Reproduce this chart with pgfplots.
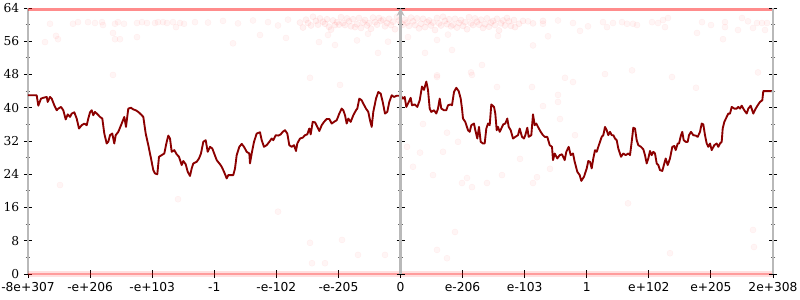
\documentclass[border=0pt]{standalone}
\usepackage{fontspec}
\setmainfont{DejaVu Serif}
\newfontfamily\xfont{DejaVu Sans}
\usepackage{pgfplots}
\pgfplotsset{compat=1.18}
\definecolor{axgray}{RGB}{185,185,185}
\definecolor{lred}{RGB}{139,0,0}
\pgfplotsset{base/.style={
  scale only axis, width=558.75pt, height=199.5pt,
  xmin=0, xmax=745, ymin=0, ymax=64, enlargelimits=false,
  ytick={0,8,...,64}, minor y tick num=1,
  tick align=center, major tick length=6pt, minor tick length=3.5pt,
  major tick style={black, line width=0.7pt},
  minor tick style={black!60, line width=0.6pt},
  axis line style={-, draw=axgray, line width=1.6pt},
  /pgf/number format/assume math mode=true,
  yticklabel style={font=\fontsize{9.2}{11}\selectfont},
  xticklabel style={font=\xfont\fontsize{9.2}{11}\selectfont},
}}
\begin{document}
\begin{tikzpicture}
\begin{axis}[base,
  axis y line*=left, axis x line*=bottom,
  x axis line style={draw opacity=0},
  xtick={0,62.0833,124.1667,186.25,248.3333,310.4167,372.5,434.5833,496.6667,558.75,620.8333,682.9167,745},
  xticklabels={-8e+307,-e+206,-e+103,-1,-e-102,-e-205,0,e-206,e-103,1,e+102,e+205,2e+308},
  minor x tick num=0,
  clip=false]
% bands of points at 0 and 64
\addplot[red, line width=4.5pt, opacity=0.12] coordinates {(0,0)(745,0)};
\addplot[red, line width=1.4pt, opacity=0.3] coordinates {(0,0)(745,0)};
\addplot[red, line width=2.4pt, opacity=0.45] coordinates {(0,63.6)(745,63.6)};
% dense cloud near the top
\addplot[only marks, mark=*, mark size=2.3pt, mark options={fill=red, draw=red, opacity=0.05}] coordinates {
(272,60.5)(278,61.2)(283,59.8)(288,60.9)(292,61.5)(297,60.2)(301,59.5)(305,61.0)(309,60.6)(313,61.8)(317,59.9)(321,60.8)(325,61.3)(329,60.1)(333,59.2)(337,61.1)(341,60.4)(345,61.7)(349,60.0)(353,60.9)(357,59.6)(361,61.4)(365,60.7)(369,61.9)(373,60.3)(377,61.2)(381,59.7)(385,60.8)(389,61.5)(393,60.2)(397,59.4)(401,61.0)(405,60.5)(409,61.6)(413,59.8)(417,60.9)(421,61.3)(425,60.0)(429,59.3)(433,61.1)(437,60.6)(441,61.8)(445,59.9)(449,60.7)(453,61.2)(457,60.1)(461,59.5)(465,60.9)(469,61.4)(473,60.3)(477,59.8)(481,60.8)(486,61.1)(491,60.2)
(275,59.3)(285,61.9)(295,60.7)(303,58.8)(311,60.0)(319,61.5)(327,59.4)(335,60.5)(343,59.0)(351,61.6)(359,60.4)(367,58.9)(375,60.0)(383,61.7)(391,59.1)(399,60.6)(407,58.7)(415,61.9)(423,59.6)(431,60.4)(439,58.9)(447,61.5)(455,59.2)(463,60.5)(471,58.6)(479,61.6)(487,59.4)
(280,60.4)(290,60.0)(299,61.3)(307,59.9)(315,60.4)(323,59.6)(331,61.6)(339,59.8)(347,60.6)(355,61.2)(363,59.9)(371,61.0)(379,60.5)(387,59.9)(395,61.4)(403,59.8)(411,60.3)(419,60.1)(427,61.4)(435,59.7)(443,60.3)(451,60.0)(459,61.5)(467,59.9)(475,61.0)(483,59.7)(495,60.9)(505,60.3)(515,60.9)
};
% sparse points
\addplot[only marks, mark=*, mark size=2.3pt, mark options={fill=red, draw=red, opacity=0.04}] coordinates {
(291,55.8)(307,55.1)(329,56.2)(350,53.2)(360,55.9)(397,53.2)(409,56.3)(424,53.9)(454,50.3)(282,47.2)(312,45.5)(409,47.8)(443,48.5)(300,57.5)(380,57.0)(470,57.3)(340,57.8)(420,57.6)
(22,60.2)(28,57.3)(30,56.5)(17,55.8)(45,60.2)(50,60.6)(60,60.6)(67,60.4)(74,60.6)(75,59.9)(87,60.2)(85,58.0)(87,56.5)(92,56.5)(90,60.6)(96,60.2)(109,60.4)(109,57.0)(114,60.6)(119,60.4)(127,60.4)(130,60.6)(135,60.6)(139,60.4)(145,60.6)(148,59.4)(152,60.4)(156,60.2)(167,60.6)(85,47.9)
(180,60.5)(195,60.9)(210,60.3)(225,61.0)(240,60.6)(250,59.8)(260,61.2)(232,57.5)(205,55.5)(258,56.8)
(500,60.8)(515,60.2)(530,61.0)(545,60.4)(560,59.6)(520,57.2)(552,58.5)(505,55.0)
(575,60.6)(579,59.4)(585,60.4)(594,60.6)(599,60.2)(605,60.2)(609,59.9)(624,60.6)(630,60.4)(635,61.1)(640,61.6)(637,59.4)(674,60.6)(669,58.0)(683,59.9)(697,60.6)(697,59.4)(710,58.7)(714,61.6)(720,60.8)(725,59.2)(729,60.4)(734,60.4)(737,58.7)(739,60.4)(695,56.5)(577,48.1)(604,49.0)(644,47.4)(668,44.8)(730,48.5)
(409,47.4)(444,47.9)(469,45.0)(504,45.0)(537,47.2)(545,46.2)(530,43.1)(515,40.4)(530,41.4)(395,36.1)(419,34.0)(430,31.8)(379,30.6)(392,29.2)(385,25.8)(415,29.4)(405,23.8)(434,21.9)(439,23.1)(444,20.9)(474,23.8)(509,23.3)(492,27.7)(522,25.3)(532,37.3)(547,33.4)(505,21.9)(459,21.9)
(282,7.5)(297,2.6)(284,2.6)(314,8.2)(330,4.6)(357,4.6)(409,5.8)(419,3.8)(427,10.1)(642,5.0)(726,6.5)(725,10.6)(32,21.4)(150,18.0)(250,15.0)(600,17.0)
};
% main line
\addplot[lred, line width=1.4pt, line join=round] coordinates {
(0,43.0)(8.7,43.0)(10.3,40.5)(13,42.2)(15.3,42.4)(18.7,42.6)(19.7,41.4)(22,42.6)(23.7,42.2)(26.3,40.6)(28.7,39.4)(30.3,39.8)(33,40.2)(35.3,39.4)(37.7,37.2)(39.7,38.4)(42,37.8)(43.7,38.6)(46.3,38.9)(48.7,37.4)(51,35.0)(53.7,35.8)(56.3,36.2)(58.7,35.8)(60.3,37.4)(62,38.9)(63.7,39.4)(65.3,38.2)(67,39.0)(69.7,38.4)(72,37.8)(74.3,37.4)(76.3,33.8)(78.7,31.4)(80.3,31.8)(82,33.4)(84.3,33.8)(86.3,31.4)(87.7,33.4)(90.3,34.2)(93.7,36.2)(96.3,37.8)(98,35.4)(100.3,39.8)(103,40.0)(105.3,39.6)(107.7,39.4)(110.3,39.0)(113,38.4)(115.3,37.8)(117.7,33.8)(120.3,31.0)(123,27.8)(125.3,25.0)(127,24.2)(129.3,24.0)(131,28.2)(133.7,28.6)(136.3,29.0)(138.7,31.8)(140.3,33.3)(142,32.6)(143.7,29.4)(146.3,29.8)(148.7,28.8)(151,28.2)(153.7,26.2)(155.3,27.2)(157.7,26.4)(159.7,24.6)(162,23.6)(163.7,25.4)(165.3,26.6)(168.7,27.0)(171,27.8)(173,29.0)(175.3,31.8)(177.7,32.2)(179.7,29.4)(182,30.6)(184.3,30.2)
(188.7,27.4)(192,26.4)(193.7,25.8)(196,24.6)(198.7,23.0)(200.3,23.8)(202.7,23.8)(205.3,23.8)(207,25.4)(208.7,28.6)(211.3,30.6)(213.7,31.3)(216,30.6)(218.7,29.4)(221.3,29.0)(222,26.6)(223.7,29.0)(226,31.8)(228.7,33.8)(232,34.1)(233.7,32.2)(236,30.6)(238.7,31.0)(241.3,31.8)(243.7,32.6)(245.3,32.2)(247.7,33.4)(250.3,33.3)(252.7,33.6)(254.7,34.2)(257,34.6)(259.3,33.8)(261.3,31.0)(263.7,30.6)(266,31.0)(268,29.6)(269.3,31.4)(272,32.6)(274.7,32.8)(277,33.4)(279.3,33.6)(281.3,35.0)(282.7,33.6)(284.7,36.6)(287,36.5)(289.3,35.4)(291.3,34.4)(293.7,35.8)(296,36.6)(298.7,37.3)(301.3,37.3)(303.7,36.2)(306,36.6)(308.7,37.0)(311.3,38.6)(313.7,39.8)(315.3,39.4)(317,38.2)(318.7,36.2)(320.3,37.4)(322.7,36.6)(325.3,38.2)(328,39.4)(329.3,39.8)(331.3,42.2)(333.7,41.8)(335.3,41.0)(338,39.8)(340.3,39.0)(342,37.0)(343.7,35.4)(345.3,39.0)(348,42.2)(350.3,43.8)(352.7,43.4)(354.7,41.4)(357,38.6)(359.3,39.0)(361.3,41.4)(363.7,43.0)(366,42.6)(368.7,42.9)
(372.7,42.9)(375,42.2)(376.7,42.6)(378.3,40.2)(380,41.0)(382.7,42.4)(384,40.6)(386.7,40.8)(389.3,40.2)(391.7,41.8)(394,45.1)(396,44.3)(398.3,46.3)(400,44.3)(401.7,39.8)(403.3,39.0)(406,39.4)(408.3,38.6)(410,39.8)(411.7,42.2)(413.3,39.8)(416,39.4)(418.3,39.4)(420,40.6)(422.7,40.8)(424,40.6)(426,43.8)(428.3,44.8)(430.7,44.0)(432.7,42.2)(434,39.8)(435,37.4)(437.3,36.6)(440,34.6)(441.7,34.2)(443.3,35.8)(446,36.2)(447.3,34.6)(449.3,32.6)(451,35.4)(452.7,31.8)(455,31.4)(456.7,31.4)(458.3,35.0)(460,36.2)(461.7,35.8)(463.3,40.8)(466,40.2)(467.3,38.6)(468.7,34.6)(470,35.4)(471.7,34.2)(473.3,35.0)(475.3,36.0)(477.3,36.2)(479.3,37.4)(480.7,35.4)(482.7,34.6)(485,32.6)(487.3,33.0)(490,33.4)(491.7,35.0)(494,33.0)(496,32.6)(497.3,33.4)(499.3,35.2)(500.7,33.0)(503.3,33.4)(505,38.4)(506.7,35.8)(508.3,36.2)(510,35.4)(512.7,34.2)(515,33.4)(516.7,33.0)(519.3,33.0)(521.7,31.0)(524,30.6)(525,27.4)(526.7,29.0)(529.3,27.8)(531.7,28.6)(534,28.8)(536.7,27.4)(538.3,29.4)(540.7,30.6)(542.7,28.6)(545,29.0)(546.7,27.0)(549.3,24.6)(551.7,23.8)(553.3,22.4)(556,23.4)
(558.7,25.4)(560.3,27.2)(562,27.0)(563.7,25.4)(565.3,27.8)(567,29.8)(568.7,29.4)(570.3,30.6)(572,31.8)(573.7,33.0)(575.3,33.4)(577,35.4)(578.7,34.6)(580.3,33.4)(582,34.2)(583.7,33.4)(585.3,33.4)(587,32.6)(588.7,32.2)(590.3,30.2)(593,28.2)(595.3,29.0)(597.7,28.6)(600.3,29.0)(602,28.6)(603.7,31.8)(605.3,35.2)(607,35.0)(608.7,32.2)(610.3,31.0)(613,30.6)(615.3,30.0)(617,28.6)(618.7,26.6)(620.3,27.8)(622,29.6)(623.7,28.6)(625.3,29.4)(627,29.0)(628.7,26.6)(630.3,26.2)(632,25.0)(634.3,24.8)(636.3,26.6)(637.7,27.8)(639.7,26.2)(642,27.8)(644.3,30.6)(646.3,30.8)(647.7,29.8)(649.7,31.4)(651,31.4)(653,33.4)(654.3,34.2)(655.7,32.2)(657.7,31.8)(659.7,31.8)(661,33.4)(663,34.2)(665.3,33.4)(667.7,33.3)(669.7,33.0)(672,34.2)(673.7,36.2)(675.3,36.0)(677,33.4)(678.7,31.4)(680.3,30.6)(682,31.4)(683.7,29.8)(686.3,31.0)(688.7,31.4)(690.3,30.6)(692,31.4)(693.7,31.8)(694.7,35.0)(696.3,36.6)(698.7,37.8)(700.3,38.6)(702,38.6)(703.7,40.2)(706.3,39.8)(708.7,39.8)(710.3,40.2)(712,39.8)(713.7,40.5)(716.3,39.4)(718.7,38.6)(720.3,39.8)(722.7,40.5)(725.3,38.6)(727.7,39.8)(729.7,40.6)(732,41.4)(734.3,41.8)(735.3,44.0)(738.7,44.0)(745,44.0)
};
\end{axis}
\begin{axis}[base, axis y line*=right, axis x line=none, yticklabels={}]
\end{axis}
\begin{axis}[base, xmin=-372.5, xmax=372.5, axis y line=middle, axis x line=none, yticklabels={}]
\end{axis}
\pgfresetboundingbox
\path[use as bounding box] (-21pt,-19.5pt) rectangle (579pt,205.5pt);
\end{tikzpicture}
\end{document}
